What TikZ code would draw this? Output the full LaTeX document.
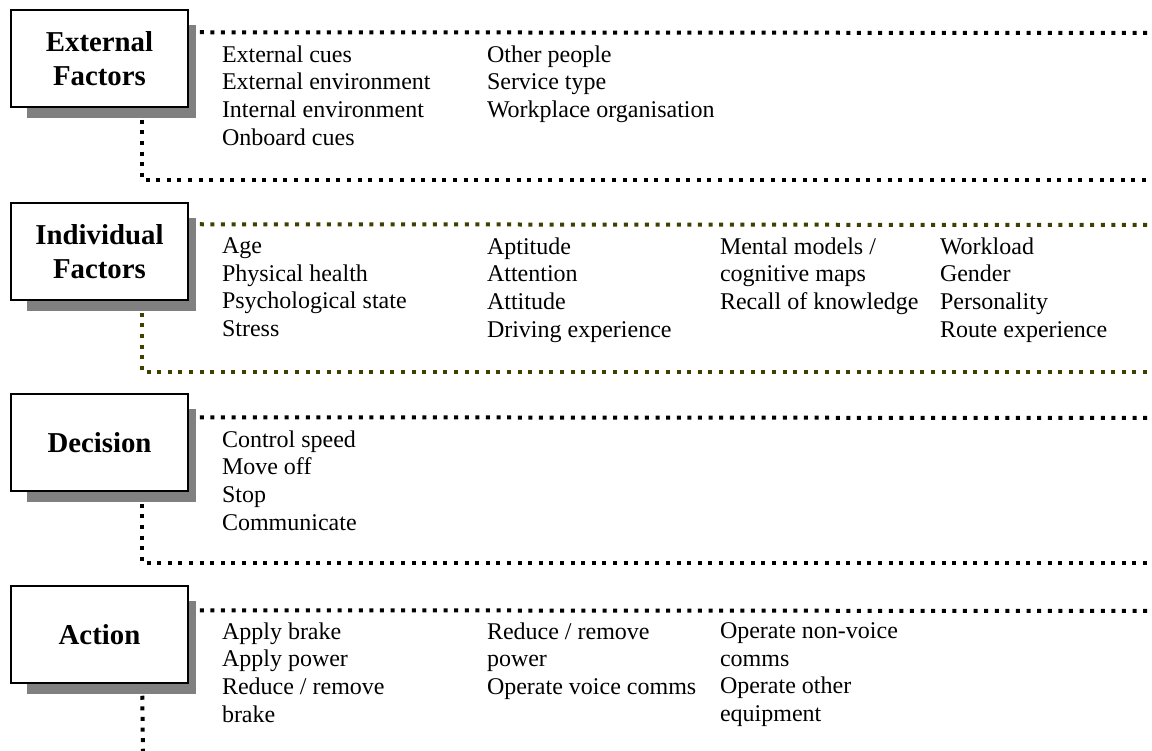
\documentclass[tikz,border=0pt]{standalone}
\usepackage{fontspec}
\setmainfont{Liberation Serif}
\usetikzlibrary{
  calc,
  shadows
}
\definecolor{shadowgray}{RGB}{128,128,128}
\definecolor{olive}{RGB}{64,64,0}
\tikzset{
  % For the framed stage boxes, with their grey shadow.
  stage/.style={
    draw,
    line width=1.5pt,
    fill=white,
    minimum width=177pt,
    minimum height=97pt,
    align=center,
    font=\fontsize{28.8}{33.5}\selectfont\bfseries,
    general shadow={
      fill=shadowgray,
      shadow xshift=12.5pt,
      shadow yshift=-14pt,
      shadow scale=0.96}},
%
  % For the lists of items next to each box.  The strut fixes the top of
  % the first line, so the node can hang from its north west corner.
  items/.style={
    inner sep=0pt,
    outer sep=0pt,
    anchor=north west,
    align=left,
    font=\fontsize{24}{27.6}\selectfont,
    execute at begin node=\strut},
%
  % For the square-dotted frame lines.
  dotline/.style={
    line width=4pt,
    dash pattern=on 4pt off 6.6pt}
}

\begin{document}
\begin{tikzpicture}[x=1pt,y=-1pt]
  \useasboundingbox (0,0) rectangle (1152,751);

  % External factors
  \node[stage] (ext) at (99.5,58.5) {External\\Factors};
  \node[items] (ext1) at (222,45.7) {External cues\\External environment\\Internal environment\\Onboard cues};
  \node[items] (ext2) at (487,45.7) {Other people\\Service type\\Workplace organisation};
  \coordinate (ext top) at (1152,33);
  \coordinate (ext bottom) at (1152,180);
  \draw[dotline] ($(ext.north east)+(11,23)$) -- (ext top);
  \draw[dotline] ($(ext.south west)+(132,12)$) |- (ext bottom);

  % Individual factors
  \node[stage] (ind) at (99.5,251.5) {Individual\\Factors};
  \node[items] (ind1) at (222,237.7) {Age\\Physical health\\Psychological state\\Stress};
  \node[items] (ind2) at (487,237.7) {Aptitude\\Attention\\Attitude\\Driving experience};
  \node[items] (ind3) at (720,237.7) {Mental models /\\cognitive maps\\Recall of knowledge};
  \node[items] (ind4) at (940,237.7) {Workload\\Gender\\Personality\\Route experience};
  \coordinate (ind top) at (1152,225);
  \coordinate (ind bottom) at (1152,372);
  \draw[dotline,olive] ($(ind.north east)+(11,22)$) -- (ind top);
  \draw[dotline,olive] ($(ind.south west)+(132,12)$) |- (ind bottom);

  % Decision
  \node[stage] (dec) at (99.5,442.5) {Decision};
  \node[items] (dec1) at (222,430.7) {Control speed\\Move off\\Stop\\Communicate};
  \coordinate (dec top) at (1152,418);
  \coordinate (dec bottom) at (1152,563);
  \draw[dotline] ($(dec.north east)+(11,24)$) -- (dec top);
  \draw[dotline] ($(dec.south west)+(132,12)$) |- (dec bottom);

  % Action
  \node[stage] (act) at (99.5,634.5) {Action};
  \node[items] (act1) at (222,622.7) {Apply brake\\Apply power\\Reduce / remove\\brake};
  \node[items] (act2) at (487,622.7) {Reduce / remove\\power\\Operate voice comms};
  \node[items] (act3) at (720,622.7) {Operate non-voice\\comms\\Operate other\\equipment};
  \coordinate (act top) at (1152,611);
  \coordinate (act end) at (143,751);
  \draw[dotline] ($(act.north east)+(11,25)$) -- (act top);
  \draw[dotline] ($(act.south west)+(132,12)$) -- (act end);
\end{tikzpicture}
\end{document}
